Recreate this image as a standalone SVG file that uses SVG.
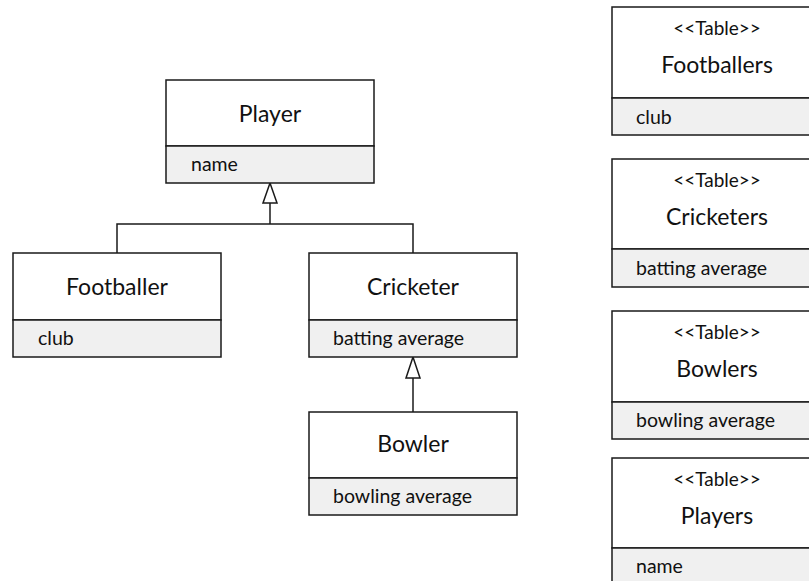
<svg xmlns="http://www.w3.org/2000/svg" width="809" height="581" viewBox="0 0 809 581">
  <style>
    .box { fill: #ffffff; stroke: #1a1a1a; stroke-width: 1.5; }
    .attr { fill: #f0f0f0; stroke: #1a1a1a; stroke-width: 1.5; }
    .title { font-family: Lato, "Liberation Sans", sans-serif; font-size: 23px; fill: #111; text-anchor: middle; }
    .stereo { font-family: Lato, "Liberation Sans", sans-serif; font-size: 19px; fill: #111; text-anchor: middle; }
    .field { font-family: Lato, "Liberation Sans", sans-serif; font-size: 19.5px; fill: #111; }
    .line { fill: none; stroke: #1a1a1a; stroke-width: 1.5; }
    .head { fill: #ffffff; stroke: #1a1a1a; stroke-width: 1.5; }
  </style>

  <rect width="809" height="581" fill="#ffffff"/>

  <!-- generalisation connectors -->
  <g id="connectors">
    <polyline class="line" points="117,253 117,224 413,224 413,253"/>
    <line class="line" x1="270" y1="224" x2="270" y2="203"/>
    <polygon class="head" points="270,183 263,203 277,203"/>
    <line class="line" x1="413" y1="412" x2="413" y2="378"/>
    <polygon class="head" points="413,357 406,378 420,378"/>
  </g>

  <!-- class model -->
  <g id="player">
    <rect class="box" x="166" y="80" width="208" height="66"/>
    <rect class="attr" x="166" y="146" width="208" height="37"/>
    <text class="title" x="270" y="122">Player</text>
    <text class="field" x="191" y="171">name</text>
  </g>

  <g id="footballer">
    <rect class="box" x="13" y="253" width="208" height="67"/>
    <rect class="attr" x="13" y="320" width="208" height="37"/>
    <text class="title" x="117" y="295">Footballer</text>
    <text class="field" x="38" y="345">club</text>
  </g>

  <g id="cricketer">
    <rect class="box" x="309" y="253" width="208" height="67"/>
    <rect class="attr" x="309" y="320" width="208" height="37"/>
    <text class="title" x="413" y="295">Cricketer</text>
    <text class="field" x="333" y="345">batting average</text>
  </g>

  <g id="bowler">
    <rect class="box" x="309" y="412" width="208" height="66"/>
    <rect class="attr" x="309" y="478" width="208" height="37"/>
    <text class="title" x="413" y="452">Bowler</text>
    <text class="field" x="333" y="503">bowling average</text>
  </g>

  <!-- table model -->
  <g id="table-footballers">
    <rect class="box" x="612" y="7" width="210" height="91"/>
    <rect class="attr" x="612" y="98" width="210" height="37"/>
    <text class="stereo" x="717" y="35">&lt;&lt;Table&gt;&gt;</text>
    <text class="title" x="717" y="73">Footballers</text>
    <text class="field" x="636" y="124">club</text>
  </g>

  <g id="table-cricketers">
    <rect class="box" x="612" y="159" width="210" height="90"/>
    <rect class="attr" x="612" y="249" width="210" height="38"/>
    <text class="stereo" x="717" y="187">&lt;&lt;Table&gt;&gt;</text>
    <text class="title" x="717" y="225">Cricketers</text>
    <text class="field" x="636" y="275">batting average</text>
  </g>

  <g id="table-bowlers">
    <rect class="box" x="612" y="311" width="210" height="91"/>
    <rect class="attr" x="612" y="402" width="210" height="37"/>
    <text class="stereo" x="717" y="339">&lt;&lt;Table&gt;&gt;</text>
    <text class="title" x="717" y="377">Bowlers</text>
    <text class="field" x="636" y="427">bowling average</text>
  </g>

  <g id="table-players">
    <rect class="box" x="612" y="458" width="210" height="90"/>
    <rect class="attr" x="612" y="548" width="210" height="40"/>
    <text class="stereo" x="717" y="486">&lt;&lt;Table&gt;&gt;</text>
    <text class="title" x="717" y="524">Players</text>
    <text class="field" x="636" y="573">name</text>
  </g>
</svg>
